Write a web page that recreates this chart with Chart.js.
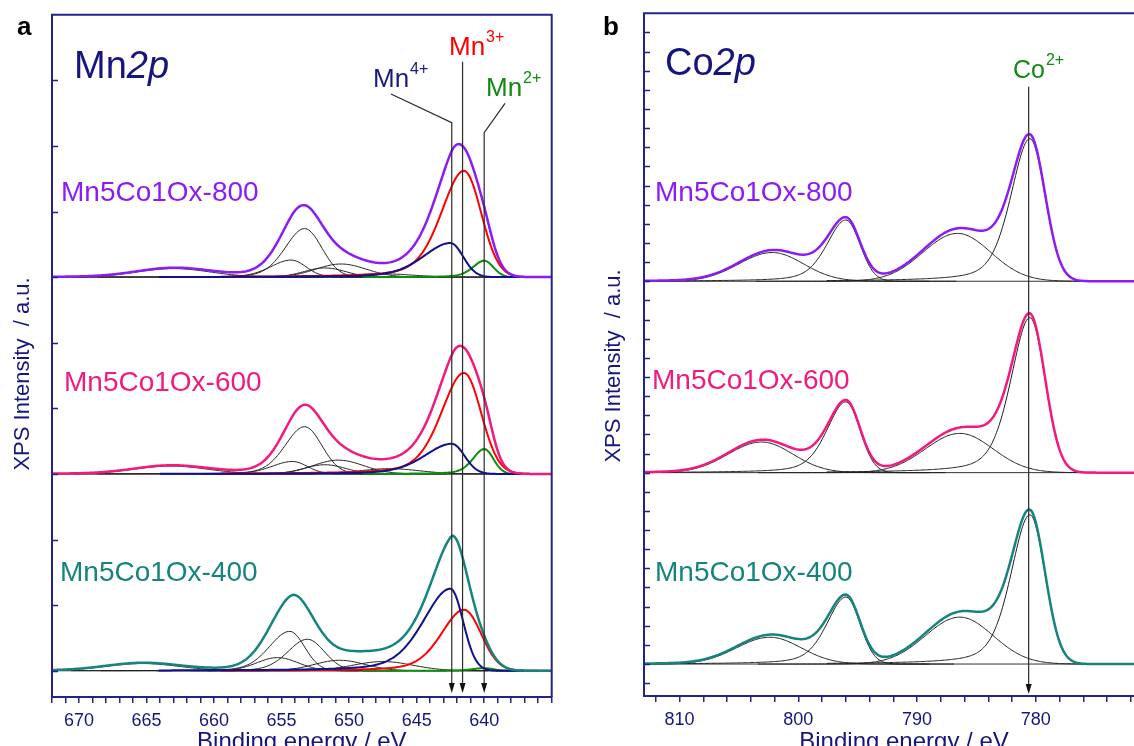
<!DOCTYPE html>
<html>
<head>
<meta charset="utf-8">
<script src="https://cdn.jsdelivr.net/npm/chart.js@4/dist/chart.umd.min.js"></script>
<style>
  html, body { margin: 0; padding: 0; background: #fff; overflow: hidden; }
  #wrap { position: relative; width: 1134px; height: 746px; overflow: hidden; }
  .panel { position: absolute; top: 0; }
  #pa { left: 0; }
  #pb { left: 560px; }
</style>
</head>
<body>
<div id="wrap">
  <div class="panel" id="pa"><canvas id="chartA" width="560" height="746"></canvas></div>
  <div class="panel" id="pb"><canvas id="chartB" width="620" height="746"></canvas></div>
</div>
<script>
var FONT = '"Liberation Sans", Arial, Helvetica, sans-serif';
var NAVY = '#15157f';
var AXIS = '#23238c';
var BLACK = '#1e1e1e';

// sample names, shared by both panels
var sampleNames = ['Mn5Co1Ox-800', 'Mn5Co1Ox-600', 'Mn5Co1Ox-400'];
var sampleColours = ['#8d1cf2', '#f2197f', '#16847e'];

// ---- panel a: Mn 2p ----
// fitted components: Mn4+, Mn3+, Mn2+, then 2p1/2 and satellite peaks (black)
var mnOffsets = [6, 3, 0];
var mnCompColours = ['#101090', '#ff0000', '#0a8f0a', BLACK, BLACK, BLACK, BLACK, BLACK, BLACK];
var mnHwLow  = [1.1, 1.5, 0.8, 1.5, 1.3, 1.8, 2.2, 2.6, 3.2];
var mnHwHigh = [2.4, 2.0, 1.0, 1.7, 1.8, 1.8, 2.2, 2.6, 3.2];
var mnTail   = [0.35, 0.35, 0.4, 0.2, 0.2, 0, 0, 0, 0];
var mnCentres = [
  [642.5, 641.5, 640.0, 653.3, 654.3, 651.8, 650.6, 647.5, 663.0],
  [642.4, 641.5, 640.0, 653.3, 654.2, 651.8, 650.8, 647.0, 663.2],
  [642.5, 641.5, 640.0, 653.1, 654.4, 655.3, 650.7, 647.5, 665.3]
];
var mnHeights = [
  [0.52, 1.62, 0.25, 0.74, 0.26, 0.14, 0.20, 0.05, 0.13],
  [0.46, 1.54, 0.38, 0.72, 0.19, 0.14, 0.21, 0.08, 0.12],
  [1.25, 0.93, 0.04, 0.48, 0.60, 0.20, 0.16, 0.14, 0.11]
];
var mnRange = [635, 672];
var mnYRange = [-0.4, 10];
var mnTickLabels = [670, 665, 660, 655, 650, 645, 640];
var mnMarkerEv = [642.4, 641.6, 640.0];
var mnMarkerSup = ['4+', '3+', '2+'];

// ---- panel b: Co 2p ----
// components: 2p3/2, its satellite, 2p1/2, its satellite
var coOffsets = [20, 10, 0];
var coCompColours = [BLACK, BLACK, BLACK, BLACK];
var coHwLow  = [1.5, 3.3, 1.4, 3.1];
var coHwHigh = [1.9, 3.4, 1.9, 3.3];
var coTail   = [0.4, 0, 0.4, 0];
var coCentres = [
  [780.5, 786.6, 796.0, 802.2],
  [780.5, 786.4, 796.0, 803.1],
  [780.5, 786.4, 796.0, 802.4]
];
var coHeights = [
  [7.45, 2.5, 3.2, 1.5],
  [8.1, 2.05, 3.7, 1.6],
  [7.8, 2.45, 3.5, 1.4]
];
var coRange = [769.2, 813];
var coYRange = [-1.67, 34];
var coTickLabels = [810, 800, 790, 780, 770];
var coMarkerEv = [780.6];
var coMarkerSup = ['2+'];

// asymmetric peak: gaussian on the low BE side, gaussian/lorentzian tail on the high BE side
function peakValue(x, c, h, lo, hi, tail) {
  var hw = x > c ? hi : lo;
  var u = (x - c) / hw;
  var g = Math.exp(-Math.LN2 * u * u);
  if (x > c && tail > 0) g = (1 - tail) * g + tail / (1 + u * u);
  return h * g;
}

function buildDatasets(p) {
  var step = 0.1, sets = [];
  for (var s = 0; s < p.offsets.length; s++) {
    var off = p.offsets[s];
    sets.push({ data: [{ x: p.range[0], y: off }, { x: p.range[1], y: off }],
      borderColor: '#333', borderWidth: 1, order: 3 });

    for (var k = 0; k < p.centres[s].length; k++) {
      var c = p.centres[s][k], h = p.heights[s][k];
      var from = Math.max(p.range[0], c - 5 * p.lo[k]);
      var to = Math.min(p.range[1], c + (p.tail[k] ? 9 : 5) * p.hi[k]);
      var n = Math.round((to - from) / step), pts = [];
      for (var i = 0; i <= n; i++) {
        var x = from + i * step;
        pts.push({ x: x, y: off + peakValue(x, c, h, p.lo[k], p.hi[k], p.tail[k]) });
      }
      var isBlack = p.compColours[k] === BLACK;
      sets.push({ data: pts, borderColor: p.compColours[k], borderWidth: isBlack ? 1 : 2, order: isBlack ? 2 : 1 });
    }

    var m = Math.round((p.range[1] - p.range[0]) / step), env = [];
    for (var j = 0; j <= m; j++) {
      var xe = p.range[0] + j * step, sum = 0;
      for (var q = 0; q < p.centres[s].length; q++)
        sum += peakValue(xe, p.centres[s][q], p.heights[s][q], p.lo[q], p.hi[q], p.tail[q]);
      env.push({ x: xe, y: off + sum });
    }
    sets.push({ data: env, borderColor: sampleColours[s], borderWidth: 2.5, order: 0 });
  }
  return sets;
}

function drawText(ctx, str, x, y, size, colour, style) {
  ctx.font = (style || '') + ' ' + size + 'px ' + FONT;
  ctx.fillStyle = colour;
  ctx.fillText(str, x, y);
  return x + ctx.measureText(str).width;
}

// frame, inward y ticks, marker lines with arrows and all labels
function framePlugin(o) {
  return {
    id: 'frame',
    afterDatasetsDraw: function (chart) {
      var ctx = chart.ctx, a = chart.chartArea, xs = chart.scales.x, ys = chart.scales.y;
      ctx.save();
      ctx.strokeStyle = AXIS;
      ctx.lineWidth = 2;
      ctx.beginPath();
      ctx.moveTo(a.left, a.bottom);
      ctx.lineTo(a.left, a.top);
      ctx.lineTo(a.right, a.top);
      if (o.rightBorder) ctx.lineTo(a.right, a.bottom);
      ctx.stroke();

      ctx.lineWidth = 1.5;
      ctx.beginPath();
      for (var v = Math.ceil(o.yRange[0]); v < o.yRange[1]; v++) {
        var yp = Math.round(ys.getPixelForValue(v)) + 0.5;
        ctx.moveTo(a.left, yp);
        ctx.lineTo(a.left + 6, yp);
      }
      ctx.stroke();

      // marker lines
      ctx.strokeStyle = '#2a2a2a';
      ctx.fillStyle = '#111';
      ctx.lineWidth = 1.2;
      o.markers.forEach(function (mk) {
        var xv = xs.getPixelForValue(mk.ev);
        ctx.beginPath();
        if (mk.from) {
          ctx.moveTo(mk.from[0], mk.from[1]);
          ctx.lineTo(xv, mk.bend);
        } else {
          ctx.moveTo(xv, mk.bend);
        }
        ctx.lineTo(xv, o.tipY - 8);
        ctx.stroke();
        ctx.beginPath();
        ctx.moveTo(xv, o.tipY);
        ctx.lineTo(xv - 3, o.tipY - 10);
        ctx.lineTo(xv + 3, o.tipY - 10);
        ctx.closePath();
        ctx.fill();
      });

      // texts
      ctx.textBaseline = 'alphabetic';
      ctx.textAlign = 'left';
      drawText(ctx, o.letter, o.letterPos[0], o.letterPos[1], 26, '#000', 'bold');
      var ex = drawText(ctx, o.element, o.titlePos[0], o.titlePos[1], 38, NAVY);
      drawText(ctx, '2p', ex, o.titlePos[1], 38, NAVY, 'italic');

      o.markers.forEach(function (mk) {
        var sx = drawText(ctx, mk.text, mk.label[0], mk.label[1], mk.size, mk.colour);
        drawText(ctx, mk.sup, sx + 1, mk.label[1] - 13, 16, mk.colour);
      });

      for (var s = 0; s < sampleNames.length; s++)
        drawText(ctx, sampleNames[s], o.namePos[s][0], o.namePos[s][1], 28, sampleColours[s]);

      ctx.textAlign = 'center';
      drawText(ctx, 'Binding energy / eV', (a.left + a.right) / 2, 749, 24, NAVY);

      ctx.translate(o.yTitle[0], o.yTitle[1]);
      ctx.rotate(-Math.PI / 2);
      ctx.textBaseline = 'middle';
      drawText(ctx, 'XPS Intensity  / a.u.', 0, 0, 22, NAVY);
      ctx.restore();
    }
  };
}

function makeChart(id, p, o) {
  var ticks = [];
  for (var t = Math.ceil(p.range[0]); t <= p.range[1]; t += 1)
    if ((t - p.tickLabels[0]) % p.minorStep === 0) ticks.push({ value: t });

  return new Chart(document.getElementById(id), {
    type: 'line',
    data: { datasets: buildDatasets(p) },
    options: {
      responsive: false,
      devicePixelRatio: 1,
      animation: false,
      events: [],
      layout: { padding: o.padding },
      elements: { point: { radius: 0 }, line: { tension: 0, fill: false } },
      plugins: { legend: { display: false }, tooltip: { enabled: false } },
      scales: {
        x: {
          type: 'linear', reverse: true, min: p.range[0], max: p.range[1],
          afterBuildTicks: function (s) { s.ticks = ticks.slice(); },
          afterFit: function (s) { s.height = o.xHeight; },
          ticks: {
            autoSkip: false, maxRotation: 0, padding: 7, color: NAVY,
            font: { family: FONT, size: 18 },
            callback: function (v) { return p.tickLabels.indexOf(v) >= 0 ? String(v) : ''; }
          },
          grid: { display: true, drawOnChartArea: false, drawTicks: true, tickLength: 6, color: AXIS, lineWidth: 1.5 },
          border: { display: true, color: AXIS, width: 2 }
        },
        y: {
          type: 'linear', min: o.yRange[0], max: o.yRange[1],
          afterFit: function (s) { s.width = o.yWidth; },
          ticks: { display: false },
          grid: { display: false },
          border: { display: false }
        }
      }
    },
    plugins: [framePlugin(o)]
  });
}

makeChart('chartA', {
  offsets: mnOffsets, centres: mnCentres, heights: mnHeights,
  lo: mnHwLow, hi: mnHwHigh, tail: mnTail, compColours: mnCompColours,
  range: mnRange, tickLabels: mnTickLabels, minorStep: 1
}, {
  padding: { top: 14.7, right: 8.3, bottom: 0, left: 0 },
  xHeight: 49, yWidth: 52, yRange: mnYRange, rightBorder: true, tipY: 693,
  letter: 'a', letterPos: [17, 35], element: 'Mn', titlePos: [74, 78], yTitle: [22.5, 374],
  namePos: [[61, 201], [64, 391], [60, 581]],
  markers: [
    { ev: mnMarkerEv[0], text: 'Mn', sup: mnMarkerSup[0], colour: '#1a1a80', size: 26, label: [373, 87], from: [391, 94], bend: 122.7 },
    { ev: mnMarkerEv[1], text: 'Mn', sup: mnMarkerSup[1], colour: '#ff0000', size: 26, label: [449, 55], bend: 61.7 },
    { ev: mnMarkerEv[2], text: 'Mn', sup: mnMarkerSup[2], colour: '#118a11', size: 26, label: [486, 96], from: [505, 103.3], bend: 132.7 }
  ]
});

makeChart('chartB', {
  offsets: coOffsets, centres: coCentres, heights: coHeights,
  lo: coHwLow, hi: coHwHigh, tail: coTail, compColours: coCompColours,
  range: coRange, tickLabels: coTickLabels, minorStep: 2
}, {
  padding: { top: 13.3, right: 16, bottom: 0, left: 0 },
  xHeight: 50, yWidth: 84, yRange: coYRange, rightBorder: false, tipY: 694,
  letter: 'b', letterPos: [43, 35], element: 'Co', titlePos: [105, 75], yTitle: [53.5, 366],
  namePos: [[95, 201], [92, 389], [95, 581]],
  markers: [
    { ev: coMarkerEv[0], text: 'Co', sup: coMarkerSup[0], colour: '#118a11', size: 25, label: [453, 78], bend: 86.7 }
  ]
});
</script>
</body>
</html>
